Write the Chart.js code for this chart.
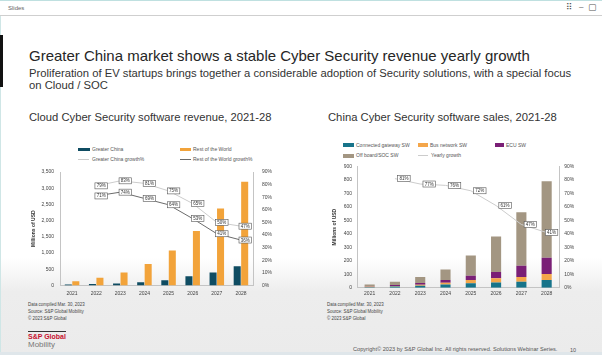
<!DOCTYPE html>
<html><head><meta charset="utf-8">
<script src="https://cdn.jsdelivr.net/npm/chart.js@4.4.0/dist/chart.umd.min.js"></script>
<style>
html,body{margin:0;padding:0;}
body{width:602px;height:355px;position:relative;overflow:hidden;font-family:"Liberation Sans",Arial,sans-serif;
 background:linear-gradient(to bottom,#ffffff 0px,#ffffff 258px,#ededed 292px,#ebebeb 355px);}
.t{position:absolute;white-space:nowrap;line-height:1;}
.box{position:absolute;}
#hdr{position:absolute;left:0;top:0;width:602px;height:16px;background:#fff;border-top:1px solid #bfe0e0;border-bottom:1px solid #cfcfcf;box-sizing:border-box;}
canvas{position:absolute;}
</style></head>
<body>
<div id="hdr"></div>
<div class="box" style="left:0;top:16px;width:1px;height:339px;background:#cfe6e6"></div>
<div class="box" style="left:0;top:35px;width:3px;height:52px;background:#111"></div>
<div class="box" style="left:0;top:352px;width:602px;height:3px;background:#dfe6ea"></div>

<div class="t" style="left:8px;top:5px;font-size:6px;color:#666">Slides</div>
<div class="t" style="left:566px;top:3px;font-size:9px;color:#555;font-family:'DejaVu Sans'">⠿</div>
<div class="t" style="left:579px;top:3px;font-size:8px;color:#555">–</div>
<div class="t" style="left:588px;top:3px;font-size:9px;color:#555;font-family:'DejaVu Sans'">▢</div>

<div class="t" id="title" style="color:#262626">Greater China market shows a stable Cyber Security revenue yearly growth</div>
<div class="t" id="sub1" style="color:#333">Proliferation of EV startups brings together a considerable adoption of Security solutions, with a special focus</div>
<div class="t" id="sub2" style="color:#333">on Cloud / SOC</div>
<div class="t" id="ct1" style="color:#333">Cloud Cyber Security software revenue, 2021-28</div>
<div class="t" id="ct2" style="color:#333">China Cyber Security software sales, 2021-28</div>

<!-- left legend -->
<div class="box" style="left:78px;top:147.5px;width:12px;height:3.5px;background:#0f4c62"></div>
<div class="t" style="left:92px;top:146.5px;font-size:5px;color:#555">Greater China</div>
<div class="box" style="left:180px;top:147.5px;width:11px;height:3.5px;background:#f2a33a"></div>
<div class="t" style="left:193px;top:146.5px;font-size:5px;color:#555">Rest of the World</div>
<div class="box" style="left:78px;top:158.5px;width:11px;height:1px;background:#cccccc"></div>
<div class="t" style="left:92px;top:156.5px;font-size:5px;color:#555">Greater China growth%</div>
<div class="box" style="left:180px;top:158.5px;width:11px;height:1px;background:#6b6b6b"></div>
<div class="t" style="left:193px;top:156.5px;font-size:5px;color:#555">Rest of the World growth%</div>

<!-- right legend -->
<div class="box" style="left:343px;top:143.3px;width:11px;height:3.5px;background:#17748a"></div>
<div class="t" style="left:356px;top:142.5px;font-size:5px;color:#555">Connected gateway SW</div>
<div class="box" style="left:418px;top:143.3px;width:10px;height:3.5px;background:#f4a64a"></div>
<div class="t" style="left:430px;top:142.5px;font-size:5px;color:#555">Bus network SW</div>
<div class="box" style="left:495px;top:143.3px;width:9px;height:3.5px;background:#7a1f76"></div>
<div class="t" style="left:506px;top:142.5px;font-size:5px;color:#555">ECU SW</div>
<div class="box" style="left:343px;top:154px;width:11px;height:3.5px;background:#a39682"></div>
<div class="t" style="left:356px;top:153.2px;font-size:5px;color:#555">Off board/SOC SW</div>
<div class="box" style="left:418px;top:155.3px;width:10px;height:1px;background:#cccccc"></div>
<div class="t" style="left:431px;top:153.2px;font-size:5px;color:#555">Yearly growth</div>

<canvas id="c1" width="270" height="140" style="left:20px;top:160px"></canvas>
<canvas id="c2" width="280" height="145" style="left:310px;top:155px"></canvas>

<!-- footnotes -->
<div class="t" id="fl1" style="color:#444">Data compiled Mar. 30, 2023</div>
<div class="t" id="fl2" style="color:#444">Source: S&amp;P Global Mobility</div>
<div class="t" id="fl3" style="color:#444">© 2023 S&amp;P Global</div>
<div class="t" id="fr1" style="color:#444">Data compiled Mar. 30, 2023</div>
<div class="t" id="fr2" style="color:#444">Source: S&amp;P Global Mobility</div>
<div class="t" id="fr3" style="color:#444">© 2023 S&amp;P Global</div>
<div class="box" style="left:28px;top:330.5px;width:38px;height:1px;background:#333"></div>
<div class="t" id="logo1" style="color:#c8102e;font-weight:bold">S&amp;P Global</div>
<div class="t" id="logo2" style="color:#777">Mobility</div>
<div class="t" id="copy" style="color:#555">Copyright© 2023 by S&amp;P Global Inc. All rights reserved. Solutions Webinar Series.</div>
<div class="t" style="left:570px;top:347.5px;font-size:5.5px;color:#555">10</div>

<script>
// ---------- data ----------
const years = ['2021','2022','2023','2024','2025','2026','2027','2028'];

// left chart: Cloud Cyber Security software revenue (Millions of USD)
const greaterChinaRevenue = [30, 40, 60, 100, 160, 280, 400, 590];
const restOfWorldRevenue  = [130, 235, 400, 660, 1075, 1680, 2370, 3200];
const greaterChinaGrowth  = [null, 79, 83, 81, 75, 65, 50, 47];
const restOfWorldGrowth   = [null, 71, 74, 69, 64, 53, 41, 36];

// right chart: China Cyber Security software sales (Millions of USD)
const connectedGatewaySW = [5, 10, 15, 25, 33, 40, 45, 58];
const busNetworkSW       = [2, 4, 8, 12, 24, 30, 35, 45];
const ecuSW              = [3, 6, 12, 20, 32, 48, 83, 120];
const offBoardSocSW      = [15, 25, 45, 79, 151, 262, 397, 568];
const yearlyGrowth       = [null, 81, 77, 76, 72, 61, 47, 41];

// ---------- text fitting ----------
const mctx = document.createElement('canvas').getContext('2d');
function place(id, x, cy, width, weight){
  const el = document.getElementById(id);
  mctx.font = (weight||'normal') + ' 100px "Liberation Sans"';
  const w = mctx.measureText(el.textContent).width;
  const size = 100 * width / w;
  el.style.fontSize = size + 'px';
  el.style.left = x + 'px';
  el.style.top = (cy - 0.49 * size) + 'px';
  return size;
}
function placeSize(id, x, cy, size){
  const el = document.getElementById(id);
  el.style.fontSize = size + 'px';
  el.style.left = x + 'px';
  el.style.top = (cy - 0.49 * size) + 'px';
}
place('title', 29, 55.9, 501);
const s1 = place('sub1', 29, 73.3, 543);
placeSize('sub2', 29, 85.6, s1);
place('ct1', 29, 117.3, 243);
place('ct2', 328, 117.3, 229);
const fs = place('fl1', 28, 305, 57);
placeSize('fl2', 28, 312.3, fs);
placeSize('fl3', 28, 319.3, fs);
placeSize('fr1', 327, 305, fs);
placeSize('fr2', 327, 312.3, fs);
placeSize('fr3', 327, 319.3, fs);
place('logo1', 28, 336.5, 38, 'bold');
place('logo2', 28, 344.5, 27);
place('copy', 353, 350, 205);

// ---------- chart helpers ----------
const FONT = {family: '"Liberation Sans", Arial, sans-serif', size: 5};
const boxLabels = {
  id: 'boxLabels',
  afterDatasetsDraw(chart, args, opts) {
    const ctx = chart.ctx;
    const area = chart.chartArea;
    chart.data.datasets.forEach((ds, di) => {
      if (ds.type !== 'line') return;
      const meta = chart.getDatasetMeta(di);
      meta.data.forEach((pt, i) => {
        const v = ds.data[i];
        if (v === null || v === undefined) return;
        const text = v + '%';
        ctx.save();
        ctx.font = '4.5px "Liberation Sans"';
        const w = ctx.measureText(text).width + 3.5;
        const h = 6;
        let cx = pt.x + (opts.dx || 0);
        cx = Math.min(cx, area.right - w / 2 - 1.5);
        const cy = pt.y;
        ctx.fillStyle = '#ffffff';
        ctx.fillRect(cx - w / 2, cy - h / 2, w, h);
        ctx.strokeStyle = '#555555';
        ctx.lineWidth = 0.6;
        ctx.strokeRect(cx - w / 2, cy - h / 2, w, h);
        ctx.fillStyle = '#333333';
        ctx.textAlign = 'center';
        ctx.textBaseline = 'middle';
        ctx.fillText(text, cx, cy + 0.3);
        ctx.restore();
      });
    });
  }
};
function fixW(w){ return function(s){ s.width = w; }; }
function fixH(h){ return function(s){ s.height = h; }; }
const axisBorder = {display: true, color: '#c4c4c4', width: 1};

// ---------- left chart ----------
new Chart(document.getElementById('c1'), {
  data: {
    labels: years,
    datasets: [
      {type: 'line', label: 'Greater China growth%', data: greaterChinaGrowth, yAxisID: 'y1',
       borderColor: '#cccccc', borderWidth: 1, pointRadius: 0, order: 0, tension: 0},
      {type: 'line', label: 'Rest of the World growth%', data: restOfWorldGrowth, yAxisID: 'y1',
       borderColor: '#6b6b6b', borderWidth: 1, pointRadius: 0, order: 0, tension: 0},
      {type: 'bar', label: 'Greater China', data: greaterChinaRevenue, yAxisID: 'y',
       backgroundColor: '#0f4c62', order: 1, categoryPercentage: 0.62, barPercentage: 0.94},
      {type: 'bar', label: 'Rest of the World', data: restOfWorldRevenue, yAxisID: 'y',
       backgroundColor: '#f2a33a', order: 1, categoryPercentage: 0.62, barPercentage: 0.94}
    ]
  },
  options: {
    responsive: false, animation: false,
    layout: {padding: {top: 10.6, left: 0, right: 0, bottom: 0}},
    plugins: {legend: {display: false}, tooltip: {enabled: false}, boxLabels: {dx: 5}},
    scales: {
      x: {grid: {display: false, drawTicks: false}, border: axisBorder, afterFit: fixH(14.6),
          ticks: {font: FONT, color: '#444', padding: 5, maxRotation: 0, autoSkip: false}},
      y: {position: 'left', min: 0, max: 3500, grid: {display: false, drawTicks: false}, border: axisBorder,
          afterFit: fixW(40),
          ticks: {stepSize: 500, font: FONT, color: '#444', padding: 6,
                  callback: v => v.toLocaleString('en-US')},
          title: {display: true, text: 'Millions of USD', font: {family: FONT.family, size: 5, weight: 'bold'},
                  color: '#333', padding: {top: 10.3, bottom: 0}}},
      y1: {position: 'right', min: 0, max: 90, grid: {display: false, drawTicks: false}, border: axisBorder,
           afterFit: fixW(37),
           ticks: {stepSize: 10, font: FONT, color: '#444', padding: 9, callback: v => v + '%'}}
    }
  },
  plugins: [boxLabels]
});

// ---------- right chart ----------
const stackBar = {type: 'bar', yAxisID: 'y', order: 1, categoryPercentage: 0.8, barPercentage: 0.5, stack: 's'};
new Chart(document.getElementById('c2'), {
  data: {
    labels: years,
    datasets: [
      {type: 'line', label: 'Yearly growth', data: yearlyGrowth, yAxisID: 'y1',
       borderColor: '#cccccc', borderWidth: 1, pointRadius: 0, order: 0, tension: 0},
      Object.assign({label: 'Connected gateway SW', data: connectedGatewaySW, backgroundColor: '#17748a'}, stackBar),
      Object.assign({label: 'Bus network SW', data: busNetworkSW, backgroundColor: '#f4a64a'}, stackBar),
      Object.assign({label: 'ECU SW', data: ecuSW, backgroundColor: '#7a1f76'}, stackBar),
      Object.assign({label: 'Off board/SOC SW', data: offBoardSocSW, backgroundColor: '#a39682'}, stackBar)
    ]
  },
  options: {
    responsive: false, animation: false,
    layout: {padding: {top: 11.5, left: 0, right: 0, bottom: 0}},
    plugins: {legend: {display: false}, tooltip: {enabled: false}, boxLabels: {dx: 9}},
    scales: {
      x: {stacked: true, grid: {display: false, drawTicks: false}, border: axisBorder, afterFit: fixH(12.2),
          ticks: {font: FONT, color: '#444', padding: 3, maxRotation: 0, autoSkip: false}},
      y: {stacked: true, position: 'left', min: 0, max: 900, grid: {display: false, drawTicks: false}, border: axisBorder,
          afterFit: fixW(47),
          ticks: {stepSize: 100, font: FONT, color: '#444', padding: 5},
          title: {display: true, text: 'Millions of USD', font: {family: FONT.family, size: 5, weight: 'bold'},
                  color: '#333', padding: {top: 22, bottom: 0}}},
      y1: {position: 'right', min: 0, max: 90, grid: {display: false, drawTicks: false}, border: axisBorder,
           afterFit: fixW(30.7),
           ticks: {stepSize: 10, font: FONT, color: '#444', padding: 5, callback: v => v + '%'}}
    }
  },
  plugins: [boxLabels]
});
</script>
</body></html>
